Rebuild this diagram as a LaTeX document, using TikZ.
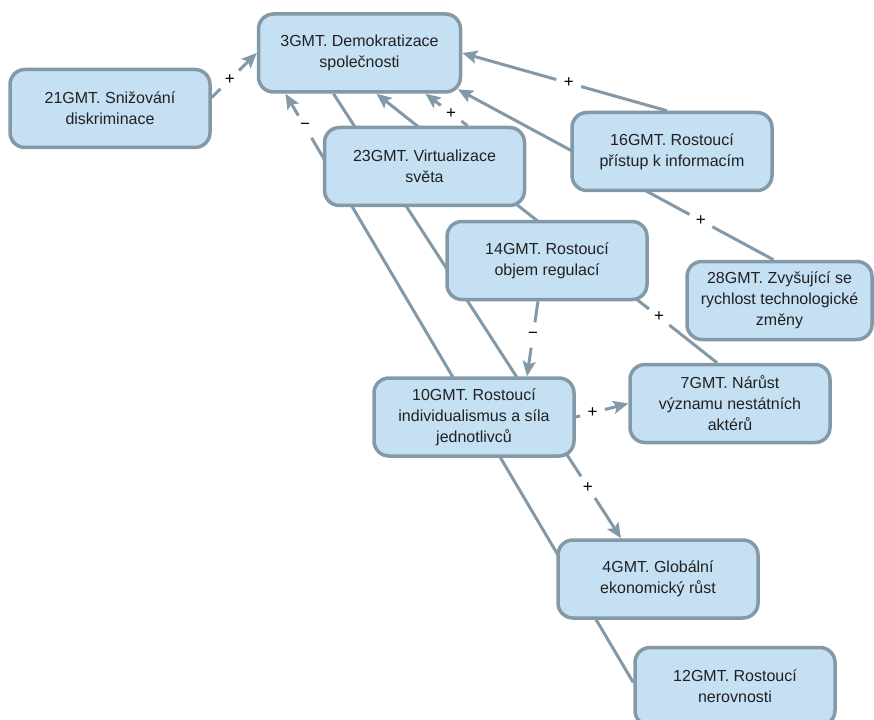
\documentclass[tikz,border=0pt]{standalone}
\usepackage{fontspec}
\setmainfont{Liberation Sans}
\usetikzlibrary{arrows.meta}
\definecolor{trendfill}{RGB}{197,223,243}
\definecolor{trendline}{RGB}{132,153,168}
\pgfdeclarelayer{background}
\pgfsetlayers{background,main}
\tikzstyle{trend} =[rectangle, rounded corners=15pt, minimum width=200pt, minimum height=78pt, align=center, draw=trendline, line width=3.5pt, fill=trendfill, text=black!87, font=\fontsize{16}{21}\selectfont]
\tikzstyle{arrow} =[draw=trendline, line width=3pt, -{Stealth[length=15pt,width=13pt,inset=3pt]}]
\tikzstyle{sign} =[circle, fill=white, inner sep=0pt, minimum size=26pt, text=black, font=\fontsize{17}{17}\selectfont]

\begin{document}
\begin{tikzpicture}[x=1pt, y=-1pt, node distance=110pt]
\useasboundingbox (0,0) rectangle (874,719);
\node (gmt3) [trend, minimum width=202pt] at (359.5,53) {3GMT. Demokratizace\\společnosti};
\node (gmt21) [trend, left of=gmt3, xshift=-139.5pt, yshift=-55.5pt] {21GMT. Snižování\\diskriminace};
\node (gmt23) [trend, below of=gmt3, xshift=65pt, yshift=-3.5pt] {23GMT. Virtualizace\\světa};
\node (gmt16) [trend, right of=gmt23, xshift=137.5pt, yshift=15pt] {16GMT. Rostoucí\\přístup k informacím};
\node (gmt14) [trend, below of=gmt23, xshift=122.5pt, yshift=16pt] {14GMT. Rostoucí\\objem regulací};
\node (gmt28) [trend, below of=gmt16, xshift=107.5pt, yshift=-39pt, minimum width=185pt] {28GMT. Zvyšující se\\rychlost technologické\\změny};
\node (gmt10) [trend, below of=gmt14, xshift=-73pt, yshift=-46.5pt] {10GMT. Rostoucí\\individualismus a síla\\jednotlivců};
\node (gmt7) [trend, right of=gmt10, xshift=146pt, yshift=13.5pt] {7GMT. Nárůst\\významu nestátních\\aktérů};
\node (gmt4) [trend, below of=gmt10, xshift=184pt, yshift=-52pt] {4GMT. Globální\\ekonomický růst};
\node (gmt12) [trend, below of=gmt4, xshift=77pt, yshift=2.5pt] {12GMT. Rostoucí\\nerovnosti};
\begin{pgfonlayer}{background}
\draw [arrow] ([yshift=11pt]gmt21.east) -- node[sign, pos=0.4]{+} (gmt3.west);
\draw [arrow] ([xshift=-5pt]gmt16.north) -- node[sign, pos=0.48]{+} (gmt3.east);
\draw [arrow] ([xshift=-6pt]gmt28.north) -- node[sign, pos=0.23]{+} ([shift={(-4.4pt,4.4pt)}]gmt3.south east);
\draw [arrow] ([xshift=43pt]gmt23.north) -- node[sign, pos=0.39]{+} ([xshift=66pt]gmt3.south);
\draw [arrow] ([xshift=-13pt]gmt7.north) -- node[sign, pos=0.17]{+} ([xshift=17pt]gmt3.south);
\draw [arrow] ([yshift=4pt]gmt12.west) -- node[sign, pos=0.944]{−} ([xshift=-74pt]gmt3.south);
\draw [arrow] ([xshift=-26pt]gmt3.south) -- node[sign, pos=0.885]{+} ([xshift=-37pt]gmt4.north);
\draw [arrow] ([xshift=-9pt]gmt14.south) -- node[sign, pos=0.45]{−} ([xshift=53pt]gmt10.north);
\draw [arrow] (gmt10.east) -- node[sign, pos=0.32]{+} (gmt7.west);
\end{pgfonlayer}
\end{tikzpicture}
\end{document}
